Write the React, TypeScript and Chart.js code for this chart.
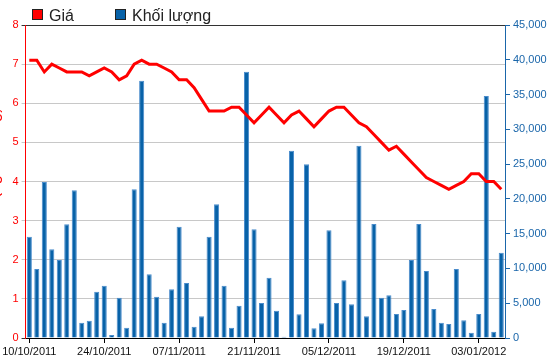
import React, { useEffect, useRef } from 'react';
import { Chart, registerables } from 'chart.js';

Chart.register(...registerables);

const dates: string[] = [
  '10/10/2011', '11/10/2011', '12/10/2011', '13/10/2011', '14/10/2011',
  '17/10/2011', '18/10/2011', '19/10/2011', '20/10/2011', '21/10/2011',
  '24/10/2011', '25/10/2011', '26/10/2011', '27/10/2011', '28/10/2011',
  '31/10/2011', '01/11/2011', '02/11/2011', '03/11/2011', '04/11/2011',
  '07/11/2011', '08/11/2011', '09/11/2011', '10/11/2011', '11/11/2011',
  '14/11/2011', '15/11/2011', '16/11/2011', '17/11/2011', '18/11/2011',
  '21/11/2011', '22/11/2011', '23/11/2011', '24/11/2011', '25/11/2011',
  '28/11/2011', '29/11/2011', '30/11/2011', '01/12/2011', '02/12/2011',
  '05/12/2011', '06/12/2011', '07/12/2011', '08/12/2011', '09/12/2011',
  '12/12/2011', '13/12/2011', '14/12/2011', '15/12/2011', '16/12/2011',
  '19/12/2011', '20/12/2011', '21/12/2011', '22/12/2011', '23/12/2011',
  '26/12/2011', '27/12/2011', '28/12/2011', '29/12/2011', '30/12/2011',
  '03/01/2012', '04/01/2012', '05/01/2012', '06/01/2012',
];

const price: number[] = [
  7.1, 7.1, 6.8, 7.0, 6.9, 6.8, 6.8, 6.8, 6.7, 6.8,
  6.9, 6.8, 6.6, 6.7, 7.0, 7.1, 7.0, 7.0, 6.9, 6.8,
  6.6, 6.6, 6.4, 6.1, 5.8, 5.8, 5.8, 5.9, 5.9, 5.7,
  5.5, 5.7, 5.9, 5.7, 5.5, 5.7, 5.8, 5.6, 5.4, 5.6,
  5.8, 5.9, 5.9, 5.7, 5.5, 5.4, 5.2, 5.0, 4.8, 4.9,
  4.7, 4.5, 4.3, 4.1, 4.0, 3.9, 3.8, 3.9, 4.0, 4.2,
  4.2, 4.0, 4.0, 3.8,
];

const volume: number[] = [
  14560, 9920, 22430, 12750, 11210, 16340, 21230, 2200, 2490, 6660,
  7520, 430, 5800, 1490, 21370, 37000, 9150, 5940, 2200, 7000,
  16000, 7910, 1630, 3110, 14560, 19220, 7520, 1490, 4650, 38290,
  15620, 5030, 8670, 3930, 190, 26930, 3400, 24970, 1390, 2110,
  15480, 5030, 8290, 4840, 27650, 3110, 16390, 5800, 6130, 3450,
  4030, 11210, 16390, 9630, 4170, 2200, 2010, 9920, 2540, 770,
  3450, 34790, 910, 12270,
];

const seriesNames: string[] = ['Giá', 'Khối lượng'];
const priceAxisTitle = 'Giá (nghìn đồng)';
const labelEvery = 10;

const FONT = "'Liberation Sans', Arial, sans-serif";
const RED = '#ff0000';
const BLUE = '#0862a8';
const AXIS_BLUE = '#1a66aa';

const overlayPlugin = {
  id: 'overlay',
  afterDraw(chart: any) {
    const ctx = chart.ctx as CanvasRenderingContext2D;
    const area = chart.chartArea;
    ctx.save();
    // legend
    ctx.font = `16px ${FONT}`;
    ctx.textBaseline = 'alphabetic';
    const legendItems = [
      { label: chart.data.datasets[0].label, color: RED, x: 32 },
      { label: chart.data.datasets[1].label, color: BLUE, x: 115 },
    ];
    for (const it of legendItems) {
      ctx.fillStyle = it.color;
      ctx.fillRect(it.x, 9, 11, 11);
      ctx.strokeStyle = '#222';
      ctx.lineWidth = 1;
      ctx.strokeRect(it.x + 0.5, 9.5, 10, 10);
      ctx.fillStyle = '#222';
      ctx.fillText(it.label, it.x + 17, 21);
    }
    // rotated axis title, mostly clipped by the canvas' left edge
    ctx.translate(-1, (area.top + area.bottom) / 2 - 14);
    ctx.rotate(-Math.PI / 2);
    ctx.fillStyle = RED;
    ctx.font = `16px ${FONT}`;
    ctx.textAlign = 'center';
    ctx.textBaseline = 'alphabetic';
    ctx.fillText(priceAxisTitle, 0, 0);
    ctx.restore();
  },
};

export default function App() {
  const ref = useRef<HTMLCanvasElement | null>(null);

  useEffect(() => {
    document.body.style.margin = '0';
    const canvas = ref.current;
    if (!canvas) return;
    const chart = new Chart(canvas, {
      type: 'bar',
      data: {
        labels: dates,
        datasets: [
          {
            type: 'line',
            label: seriesNames[0],
            data: price,
            yAxisID: 'y',
            borderColor: RED,
            backgroundColor: RED,
            borderWidth: 3,
            pointRadius: 0,
            tension: 0,
            order: 0,
          } as any,
          {
            type: 'bar',
            label: seriesNames[1],
            data: volume,
            yAxisID: 'y1',
            backgroundColor: BLUE,
            borderColor: '#4a8ccc',
            borderWidth: { top: 1, left: 1, right: 1, bottom: 0 },
            borderSkipped: false,
            barPercentage: 0.68,
            categoryPercentage: 1,
            order: 1,
          } as any,
        ],
      },
      options: {
        responsive: false,
        animation: false,
        layout: { padding: { top: 25, left: 0, right: 0, bottom: 0 } },
        plugins: {
          legend: { display: false },
          tooltip: { enabled: false },
          title: { display: false },
        },
        scales: {
          x: {
            type: 'category',
            offset: true,
            afterFit: (s: any) => { s.height = 26; },
            grid: {
              display: true,
              drawOnChartArea: false,
              offset: false,
              tickLength: 5,
              color: (c: any) => (c.index % labelEvery === 0 ? '#000' : 'rgba(0,0,0,0)'),
            },
            border: { color: '#000', width: 1 },
            ticks: {
              autoSkip: false,
              maxRotation: 0,
              minRotation: 0,
              padding: 2,
              color: '#111',
              font: { family: FONT, size: 11 },
              callback: (_v: any, i: number) => (i % labelEvery === 0 ? dates[i] : ''),
            },
          },
          y: {
            position: 'left',
            min: 0,
            max: 8,
            afterFit: (s: any) => { s.width = 25; },
            grid: {
              color: (c: any) => (c.tick && c.tick.value === 8 ? '#333' : '#c8c8c8'),
              tickColor: (c: any) => (c.tick && (c.tick.value === 8 || c.tick.value === 0) ? '#333' : '#c8c8c8'),
              tickLength: 4,
              lineWidth: 1,
            },
            border: { color: RED, width: 1 },
            ticks: {
              stepSize: 1,
              padding: 3,
              color: RED,
              font: { family: FONT, size: 11 },
            },
          },
          y1: {
            position: 'right',
            min: 0,
            max: 45000,
            afterFit: (s: any) => { s.width = 45; },
            grid: {
              drawOnChartArea: false,
              tickColor: AXIS_BLUE,
              tickLength: 5,
            },
            border: { color: AXIS_BLUE, width: 1 },
            ticks: {
              stepSize: 5000,
              padding: 3,
              color: AXIS_BLUE,
              font: { family: FONT, size: 11 },
            },
          },
        },
      } as any,
      plugins: [overlayPlugin],
    });
    return () => chart.destroy();
  }, []);

  return (
    <div style={{ width: 550, height: 364 }}>
      <canvas ref={ref} width={550} height={364} />
    </div>
  );
}
